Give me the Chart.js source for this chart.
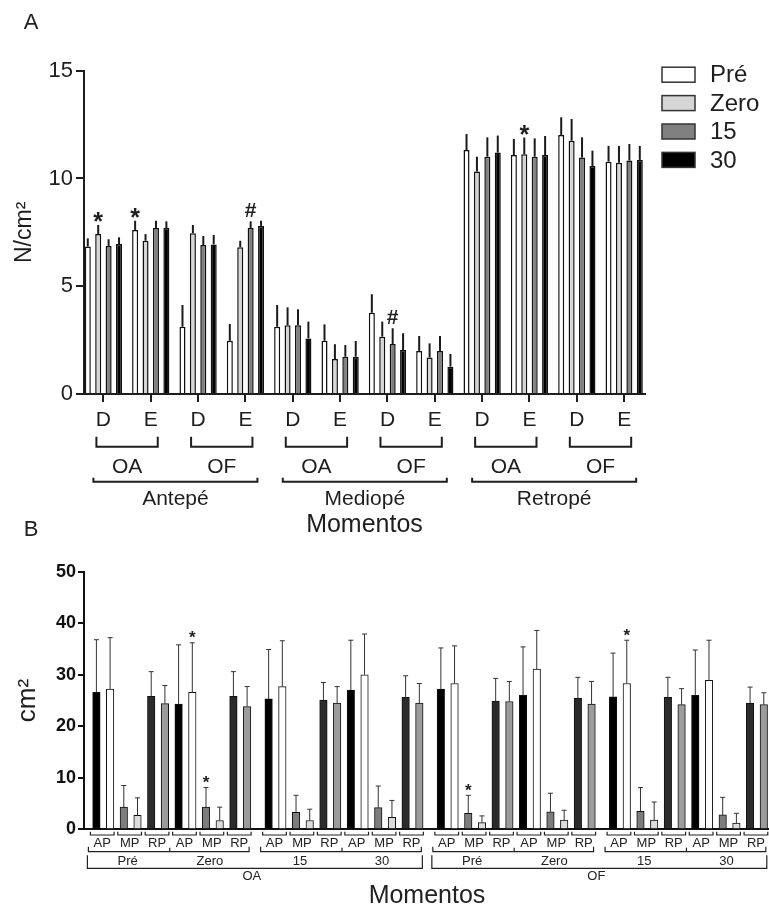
<!DOCTYPE html>
<html>
<head>
<meta charset="utf-8">
<script src="https://cdn.jsdelivr.net/npm/chart.js@4.4.0/dist/chart.umd.min.js"></script>
<style>
  html, body { margin: 0; padding: 0; background: #fff; overflow: hidden; }
  #caixaA { position: absolute; left: 0; top: 0; }
  #caixaB { position: absolute; left: 0; top: 515px; }
</style>
</head>
<body>
<canvas id="caixaA" width="769" height="545"></canvas>
<canvas id="caixaB" width="769" height="393"></canvas>
<script>
const FONTE = "'Liberation Sans', Arial, Helvetica, sans-serif";
const TXT = '#1e1e1e';

// ---- painel A: pressão (N/cm2) ----
const regioes = ['Antepé', 'Mediopé', 'Retropé'];
const condicoes = ['OA', 'OF'];
const lados = ['D', 'E'];
const momentos = ['Pré', 'Zero', '15', '30'];

// ordem dos grupos: Antepé OA D, OA E, OF D, OF E, Mediopé ..., Retropé ...
const pre  = [6.84, 7.61, 3.12, 2.47, 3.12, 2.47, 3.77, 2.00, 11.32, 11.09, 12.02, 10.78];
const zero = [7.42, 7.11, 7.46, 6.81, 3.19, 1.62, 2.66, 1.69, 10.32, 11.12, 11.75, 10.73];
const m15  = [6.87, 7.70, 6.91, 7.70, 3.19, 1.73, 2.32, 2.00, 11.01, 11.01, 10.97, 10.83];
const m30  = [6.96, 7.70, 6.94, 7.80, 2.58, 1.73, 2.04, 1.27, 11.20, 11.09, 10.58, 10.86];

const sdPre  = [0.38, 0.43, 1.01, 0.78, 1.01, 0.76, 0.86, 0.69, 0.74, 0.74, 0.82, 0.73];
const sdZero = [0.42, 0.31, 0.38, 0.30, 0.83, 0.69, 0.70, 0.66, 0.69, 0.78, 1.01, 0.78];
const sd15   = [0.31, 0.34, 0.42, 0.31, 0.74, 0.54, 0.73, 0.69, 0.90, 0.85, 0.94, 0.77];
const sd30   = [0.31, 0.31, 0.44, 0.24, 0.78, 0.73, 0.78, 0.59, 0.79, 0.88, 0.71, 0.65];

const marcasA = [
  { grupo: 0, serie: 1, s: '*' },
  { grupo: 1, serie: 0, s: '*' },
  { grupo: 3, serie: 2, s: '#' },
  { grupo: 6, serie: 2, s: '#' },
  { grupo: 9, serie: 1, s: '*' }
];

// ---- painel B: área (cm2) ----
const momentosB = ['Pré', 'Zero', '15', '30'];
const regioesB = ['AP', 'MP', 'RP'];
// por momento: AP, AP, MP, MP, RP, RP
const areaOA = [26.6, 27.2, 4.3, 2.7, 25.8, 24.4,
                24.3, 26.6, 4.3, 1.7, 25.8, 23.8,
                25.3, 27.7, 3.3, 1.7, 25.1, 24.5,
                27.0, 30.0, 4.2, 2.3, 25.6, 24.5];
const sdOA   = [10.2, 10.0, 4.2, 3.4, 4.8, 3.5,
                11.5,  9.6, 3.8, 2.6, 4.8, 3.9,
                 9.6,  8.9, 3.3, 2.2, 3.4, 3.2,
                 9.7,  7.9, 4.2, 3.3, 4.2, 3.8];
const areaOF = [27.2, 28.3, 3.1, 1.3, 24.9, 24.8,
                26.0, 31.1, 3.4, 1.8, 25.4, 24.3,
                25.7, 28.3, 3.5, 1.8, 25.6, 24.2,
                26.0, 28.9, 2.8, 1.2, 24.5, 24.2];
const sdOF   = [8.0, 7.3, 3.5, 1.3, 4.4, 3.9,
                9.4, 7.5, 3.6, 1.9, 4.1, 4.4,
                8.5, 8.4, 4.6, 3.5, 3.9, 3.1,
                8.8, 7.8, 3.4, 1.9, 3.1, 2.3];
const marcasB = [7, 8, 26, 37];

const coresA = ['#ffffff', '#d6d6d6', '#808080', '#000000'];
const coresB = ['#000000', '#ffffff', '#7d7d7d', '#dcdcdc', '#2b2b2b', '#9c9c9c'];

function colchete(ctx, x1, x2, y, h) {
  ctx.beginPath();
  ctx.moveTo(x1, y - h); ctx.lineTo(x1, y); ctx.lineTo(x2, y); ctx.lineTo(x2, y - h);
  ctx.stroke();
}

function simbolo(ctx, s, x, yc, tam) {
  ctx.font = `bold ${tam}px ${FONTE}`;
  ctx.textAlign = 'center';
  ctx.textBaseline = 'alphabetic';
  ctx.fillText(s, x, yc + (s === '*' ? 0.57 : 0.36) * tam);
}

const barrasErro = {
  id: 'barrasErro',
  afterDatasetsDraw(chart, args, opts) {
    const { ctx } = chart;
    const y = chart.scales.y;
    ctx.save();
    ctx.strokeStyle = opts.cor;
    ctx.lineWidth = opts.largura;
    chart.data.datasets.forEach((ds, k) => {
      chart.getDatasetMeta(k).data.forEach((bar, i) => {
        const topo = y.getPixelForValue(ds.data[i].y + ds.sd[i]);
        ctx.beginPath();
        ctx.moveTo(bar.x, bar.y);
        ctx.lineTo(bar.x, topo);
        if (opts.cap) { ctx.moveTo(bar.x - opts.cap, topo); ctx.lineTo(bar.x + opts.cap, topo); }
        ctx.stroke();
      });
    });
    ctx.restore();
  }
};

const anotacoesA = {
  id: 'anotacoesA',
  afterDraw(chart) {
    const { ctx, chartArea } = chart;
    const x = chart.scales.x, y = chart.scales.y;
    const base = chartArea.bottom;
    ctx.save();
    ctx.strokeStyle = TXT; ctx.fillStyle = TXT; ctx.lineWidth = 2;
    ctx.textAlign = 'center'; ctx.textBaseline = 'middle';
    ctx.font = `21px ${FONTE}`;
    regioes.forEach((r, ri) => {
      condicoes.forEach((c, ci) => {
        const g = ri * 4 + ci * 2;
        const x1 = x.getPixelForValue(g) - 7, x2 = x.getPixelForValue(g + 1) + 7;
        colchete(ctx, x1, x2, base + 52.7, 10);
        ctx.fillText(c, (x1 + x2) / 2, base + 73);
      });
      const x1 = x.getPixelForValue(ri * 4) - 10, x2 = x.getPixelForValue(ri * 4 + 3) + 12;
      colchete(ctx, x1, x2, base + 87.7, 4);
      ctx.fillText(r, (x1 + x2) / 2, base + 105);
    });
    ctx.font = `25px ${FONTE}`;
    ctx.fillText('Momentos', (chartArea.left + chartArea.right) / 2, base + 131);
    ctx.font = `22px ${FONTE}`;
    ctx.fillText('A', 31, 23);

    // marcas de significância
    marcasA.forEach(m => {
      const ds = chart.data.datasets[m.serie];
      const bar = chart.getDatasetMeta(m.serie).data[m.grupo];
      const topo = y.getPixelForValue(ds.data[m.grupo].y + ds.sd[m.grupo]);
      simbolo(ctx, m.s, bar.x, topo - (m.s === '*' ? 9 : 12), m.s === '*' ? 25 : 21);
    });

    // legenda
    ctx.font = `24px ${FONTE}`;
    ctx.textAlign = 'left'; ctx.textBaseline = 'middle';
    chart.data.datasets.forEach((ds, k) => {
      const yc = 74.7 + k * 28.4;
      ctx.fillStyle = ds.backgroundColor;
      ctx.fillRect(662, yc - 7.5, 33, 15);
      ctx.strokeStyle = '#333'; ctx.lineWidth = 1.5;
      ctx.strokeRect(662, yc - 7.5, 33, 15);
      ctx.fillStyle = TXT;
      ctx.fillText(ds.label, 710, yc + 1);
    });
    ctx.restore();
  }
};

new Chart(document.getElementById('caixaA'), {
  type: 'bar',
  data: {
    datasets: [pre, zero, m15, m30].map((vals, k) => ({
      label: momentos[k],
      data: vals.map((v, i) => ({ x: i, y: v })),
      sd: [sdPre, sdZero, sd15, sd30][k],
      backgroundColor: coresA[k],
      borderColor: '#111',
      borderWidth: 1.5,
      categoryPercentage: 0.88,
      barPercentage: 0.58
    }))
  },
  options: {
    responsive: false,
    animation: false,
    layout: { padding: { top: 70.7, right: 124, left: 0, bottom: 0 } },
    plugins: {
      legend: { display: false },
      tooltip: { enabled: false },
      barrasErro: { cor: '#1a1a1a', largura: 2, cap: 0 }
    },
    scales: {
      x: {
        type: 'linear', min: -0.41, max: 11.44, offset: false,
        afterBuildTicks: s => { s.ticks = pre.map((v, i) => ({ value: i })); },
        afterFit: s => { s.height = 151; },
        ticks: {
          callback: (v, i) => lados[i % 2],
          font: { family: FONTE, size: 21 }, color: TXT,
          padding: 6, maxRotation: 0, autoSkip: false
        },
        grid: { offset: false, drawOnChartArea: false, tickLength: 8, color: TXT, lineWidth: 2 },
        border: { color: TXT, width: 2 }
      },
      y: {
        min: 0, max: 15,
        afterFit: s => { s.width = 84; },
        ticks: { stepSize: 5, font: { family: FONTE, size: 22 }, color: TXT, padding: 3 },
        grid: { drawOnChartArea: false, tickLength: 8, color: TXT, lineWidth: 2 },
        border: { color: TXT, width: 2 },
        title: { display: true, text: 'N/cm²', font: { family: FONTE, size: 23 }, color: TXT, padding: { top: 11, bottom: 0 } }
      }
    }
  },
  plugins: [barrasErro, anotacoesA]
});

// ---- painel B ----
const valoresB = areaOA.concat(areaOF);
const sdB = sdOA.concat(sdOF);
const posicao = i => i + 0.57 * Math.floor(i / 12);

const anotacoesB = {
  id: 'anotacoesB',
  afterDraw(chart) {
    const { ctx, chartArea } = chart;
    const y = chart.scales.y;
    const bars = chart.getDatasetMeta(0).data;
    const bx = i => bars[i].x;
    const base = chartArea.bottom;
    ctx.save();
    ctx.strokeStyle = '#222'; ctx.fillStyle = '#222'; ctx.lineWidth = 1.2;
    ctx.textAlign = 'center'; ctx.textBaseline = 'middle';
    ctx.font = `13px ${FONTE}`;
    ['OA', 'OF'].forEach((c, ci) => {
      const i0 = ci * 24;
      momentosB.forEach((m, mi) => {
        regioesB.forEach((r, ri) => {
          const i = i0 + mi * 6 + ri * 2;
          const x1 = bx(i) - 6, x2 = bx(i + 1) + 4;
          colchete(ctx, x1, x2, base + 5.7, 3.3);
          ctx.fillText(r, (x1 + x2) / 2, base + 14.2);
        });
        ctx.fillText(m, (bx(i0 + mi * 6) + bx(i0 + mi * 6 + 5)) / 2 - 3, base + 32.4);
      });
      [0, 12].forEach(h => {
        const f = i0 + h;
        colchete(ctx, bx(f) - 8, bx(f + 11) + 2, base + 22.4, 5);
        const xm = (bx(f + 5) + bx(f + 6)) / 2 - 2;
        ctx.beginPath(); ctx.moveTo(xm, base + 22.4); ctx.lineTo(xm, base + 18.4); ctx.stroke();
      });
      const x1 = bx(i0) - 9, x2 = bx(i0 + 23) + 3;
      colchete(ctx, x1, x2, base + 39, 13);
      ctx.fillText(c, (x1 + x2) / 2 - 3, base + 47.4);
    });
    ctx.font = `25px ${FONTE}`;
    ctx.fillText('Momentos', 427, base + 66.7);
    ctx.font = `22px ${FONTE}`;
    ctx.fillText('B', 31, 15);

    marcasB.forEach(i => {
      const topo = y.getPixelForValue(valoresB[i] + sdB[i]);
      simbolo(ctx, '*', bx(i), topo - 9, 17);
    });
    ctx.restore();
  }
};

new Chart(document.getElementById('caixaB'), {
  type: 'bar',
  data: {
    datasets: [{
      label: 'Área',
      data: valoresB.map((v, i) => ({ x: posicao(i), y: v })),
      sd: sdB,
      backgroundColor: valoresB.map((v, i) => coresB[i % 6]),
      borderColor: '#111',
      borderWidth: 1,
      barThickness: 7.5,
      grouped: false
    }]
  },
  options: {
    responsive: false,
    animation: false,
    layout: { padding: { top: 56.7, right: 0, left: 0, bottom: 0 } },
    plugins: {
      legend: { display: false },
      tooltip: { enabled: false },
      barrasErro: { cor: '#333', largura: 1, cap: 2.5 }
    },
    scales: {
      x: {
        type: 'linear', min: -0.905, max: 49.09, offset: false,
        afterFit: s => { s.height = 78.7; },
        ticks: { display: false },
        grid: { display: false, offset: false },
        border: { color: '#111', width: 2 }
      },
      y: {
        min: 0, max: 50,
        afterFit: s => { s.width = 84; },
        ticks: { stepSize: 10, font: { family: FONTE, size: 18, weight: 'bold' }, color: '#111', padding: 2 },
        grid: { drawOnChartArea: false, tickLength: 6, color: '#111', lineWidth: 2 },
        border: { color: '#111', width: 2 },
        title: { display: true, text: 'cm²', font: { family: FONTE, size: 26 }, color: TXT, padding: { top: 12, bottom: 0 } }
      }
    }
  },
  plugins: [barrasErro, anotacoesB]
});
</script>
</body>
</html>
